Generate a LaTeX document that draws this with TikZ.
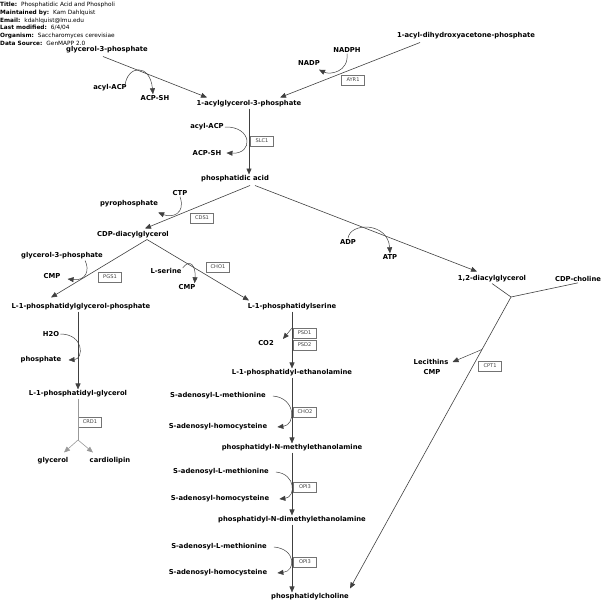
\documentclass[tikz,border=0pt]{standalone}
\usepackage{fontspec}
\setmainfont{DejaVu Sans}
\usetikzlibrary{arrows.meta}

\begin{document}
\begin{tikzpicture}[x=1pt,y=-1pt]
\tikzstyle{met}=[inner sep=1pt,font=\fontsize{6.8}{8}\selectfont\bfseries];
\tikzstyle{gene}=[draw=black!55,inner sep=0pt,minimum width=23pt,minimum height=10pt,text=black!75,font=\fontsize{5.1}{6}\selectfont];
\tikzstyle{rxn}=[draw=black!75,line width=0.6pt];
\tikzstyle{dir}=[rxn,-{Triangle[length=6pt,width=5pt]}];
\tikzstyle{side}=[draw=black!75,line width=0.5pt,-{Triangle[length=6pt,width=5pt]}];
\useasboundingbox (0,0) rectangle (615,610);
% header
\node [anchor=north west,inner sep=0pt,align=left,font=\fontsize{5.8}{7.7}\selectfont] (info) at (0,2) {\textbf{Title:}\hspace{4pt}Phosphatidic Acid and Phospholi\\
\textbf{Maintained by:}\hspace{4pt}Kam Dahlquist\\
\textbf{Email:}\hspace{4pt}kdahlquist@lmu.edu\\
\textbf{Last modified:}\hspace{4pt}6/4/04\\
\textbf{Organism:}\hspace{4pt}Saccharomyces cerevisiae\\
\textbf{Data Source:}\hspace{4pt}GenMAPP 2.0};
% metabolites
\node [met] (g3pA) at (107,50) {glycerol-3-phosphate};
\node [met] (dhap) at (466,36) {1-acyl-dihydroxyacetone-phosphate};
\node [met] (nadph) at (347,50) {NADPH};
\node [met] (nadp) at (309,63) {NADP};
\node [met] (acylA) at (110,88) {acyl-ACP};
\node [met] (acpshA) at (155,98) {ACP-SH};
\node [met] (lpa) at (249,104) {1-acylglycerol-3-phosphate};
\node [met] (acylB) at (207,127) {acyl-ACP};
\node [met] (acpshB) at (207,153) {ACP-SH};
\node [met] (pa) at (235,179) {phosphatidic acid};
\node [met] (ctp) at (180,193) {CTP};
\node [met] (pyro) at (129,204) {pyrophosphate};
\node [met] (cdpdag) at (133,235) {CDP-diacylglycerol};
\node [met] (adp) at (348,242) {ADP};
\node [met] (atp) at (390,257) {ATP};
\node [met] (dag) at (492,279) {1,2-diacylglycerol};
\node [met] (cdpcho) at (578,279) {CDP-choline};
\node [met] (g3pB) at (62,256) {glycerol-3-phosphate};
\node [met] (cmpA) at (52,276) {CMP};
\node [met] (lser) at (166,271) {L-serine};
\node [met] (cmpB) at (187,287) {CMP};
\node [met] (pgp) at (81,307) {L-1-phosphatidylglycerol-phosphate};
\node [met] (ps) at (292,307) {L-1-phosphatidylserine};
\node [met] (h2o) at (51,334) {H2O};
\node [met] (phos) at (41,360) {phosphate};
\node [met] (co2) at (266,343) {CO2};
\node [met] (lec) at (431,362) {Lecithins};
\node [met] (cmpC) at (432,372) {CMP};
\node [met] (pe) at (292,373) {L-1-phosphatidyl-ethanolamine};
\node [met] (pg) at (78,394) {L-1-phosphatidyl-glycerol};
\node [met] (samA) at (218,396) {S-adenosyl-L-methionine};
\node [met] (sahA) at (218,427) {S-adenosyl-homocysteine};
\node [met] (pnme) at (292,448) {phosphatidyl-N-methylethanolamine};
\node [met] (glyc) at (53,461) {glycerol};
\node [met] (card) at (110,461) {cardiolipin};
\node [met] (samB) at (221,472) {S-adenosyl-L-methionine};
\node [met] (sahB) at (220,499) {S-adenosyl-homocysteine};
\node [met] (pndme) at (292,520) {phosphatidyl-N-dimethylethanolamine};
\node [met] (samC) at (219,547) {S-adenosyl-L-methionine};
\node [met] (sahC) at (218,573) {S-adenosyl-homocysteine};
\node [met] (pc) at (310,597) {phosphatidylcholine};
% genes
\node [gene] (ayr1) at (353,80) {AYR1};
\node [gene] (slc1) at (262,141) {SLC1};
\node [gene] (cds1) at (202,218) {CDS1};
\node [gene] (pgs1) at (110,277) {PGS1};
\node [gene] (cho1) at (218,267) {CHO1};
\node [gene] (psd1) at (304.5,333) {PSD1};
\node [gene] (psd2) at (304.5,345) {PSD2};
\node [gene] (cpt1) at (490,366) {CPT1};
\node [gene] (crd1) at (90,422) {CRD1};
\node [gene] (cho2) at (305,412) {CHO2};
\node [gene] (opi3a) at (305,487) {OPI3};
\node [gene] (opi3b) at (305,562) {OPI3};
\coordinate (crd) at (78,440);
\coordinate (cpt) at (511,297);
% reactions
\draw [dir] ([xshift=-4pt,yshift=-2pt]g3pA.south) -- ([xshift=-42pt,yshift=2pt]lpa.north);
\draw [dir] ([xshift=-46pt,yshift=-2pt]dhap.south) -- ([xshift=31pt,yshift=2pt]lpa.north);
\draw [dir] (lpa.south) -- (lpa.south |- pa.north);
\draw [dir] ([xshift=15pt,yshift=-2pt]pa.south) -- ([xshift=12pt,yshift=2pt]cdpdag.north);
\draw [dir] ([xshift=20pt,yshift=-2pt]pa.south) -- ([xshift=-15pt,yshift=3pt]dag.north);
\draw [dir] ([xshift=14pt]cdpdag.south) -- ([xshift=-30pt,yshift=5pt]pgp.north);
\draw [dir] ([xshift=14pt]cdpdag.south) -- ([xshift=-43pt,yshift=2pt]ps.north);
\draw [dir] (pg.north |- pgp.south) -- (pg.north);
\draw [rxn,draw=black!40] (pg.south) -- (crd);
\draw [dir,draw=black!40] (crd) -- ([xshift=11pt,yshift=4pt]glyc.north);
\draw [dir,draw=black!40] (crd) -- ([xshift=-17pt,yshift=4pt]card.north);
\draw [dir] (ps.south) -- (pe.north) coordinate[pos=0.29] (psdm);
\draw [dir] (pe.south) -- (pnme.north);
\draw [dir] (pnme.south) -- (pndme.north);
\draw [dir] (pndme.south) -- (pndme.south |- pc.north);
\draw [rxn] (dag.south) -- (cpt);
\draw [rxn] (cdpcho.south) -- (cpt);
\draw [dir] (cpt) -- ([xshift=40pt,yshift=4pt]pc.north) coordinate[pos=0.18] (cptm);
% side reactions
\draw [side] ([xshift=-3pt,yshift=2pt]acylA.east) .. controls (127,65) and (150,63) .. ([xshift=-2pt]acpshA.north);
\draw [side] (nadph.south) .. controls (349,72) and (330,75) .. ([xshift=-2pt,yshift=-3pt]nadp.south east);
\draw [side] (acylB.east) .. controls (252,126) and (254,154) .. ([xshift=4pt]acpshB.east);
\draw [side] (ctp.south) .. controls (186,214) and (172,218) .. ([xshift=-1pt,yshift=-4pt]pyro.south east);
\draw [side] (adp.north) .. controls (350,222) and (388,222) .. (atp.north);
\draw [side] ([xshift=23pt]g3pB.south) .. controls (90,270) and (86,281) .. ([xshift=6pt,yshift=-3pt]cmpA.east);
\draw [side] ([yshift=3pt]lser.east) .. controls (190,258) and (196,266) .. ([xshift=-2pt]cmpB.north east);
\draw [side] (h2o.east) .. controls (84,334) and (84,359) .. ([xshift=6pt]phos.east);
\draw [side] (psdm) -- ([xshift=8pt,yshift=4pt]co2.east);
\draw [side] (cptm) -- ([xshift=3pt]lec.east);
\draw [side] ([xshift=6pt]samA.east) .. controls (296,398) and (296,425) .. ([xshift=9pt]sahA.east);
\draw [side] ([xshift=6pt]samB.east) .. controls (296,474) and (296,497) .. ([xshift=9pt]sahB.east);
\draw [side] ([xshift=6pt]samC.east) .. controls (296,549) and (296,571) .. ([xshift=9pt]sahC.east);
\end{tikzpicture}
\end{document}
